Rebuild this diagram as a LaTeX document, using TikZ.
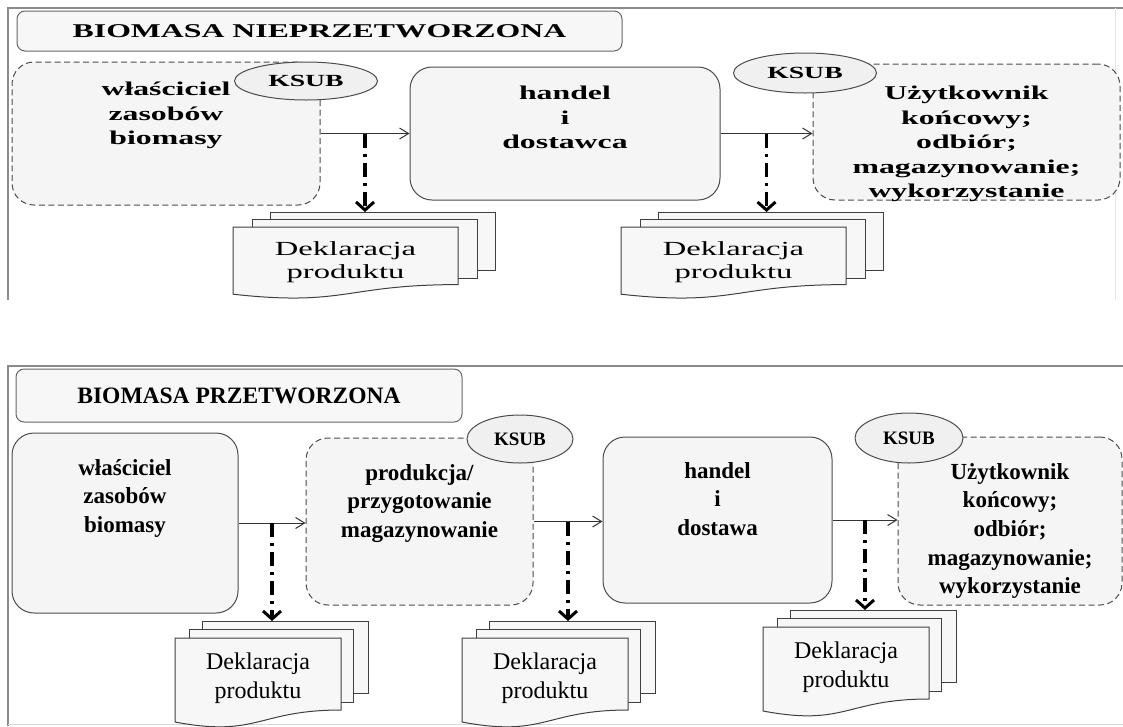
\documentclass[tikz,border=0pt]{standalone}
\usepackage{fontspec}
\setmainfont{Liberation Serif}
\newfontfamily\widefont{Liberation Serif}[FakeStretch=1.63]
\usetikzlibrary{arrows.meta, shapes.geometric, positioning, calc}
\tikzset{%
>={Straight Barb[length=9pt,width=11pt]},
  % Specifications for style of nodes:
            box/.style = {draw=black!70, fill=black!4, line width=1pt,
                            rounded corners=22pt, inner sep=0pt},
            dbox/.style = {box, dash pattern=on 6pt off 3.5pt},
            ksub/.style = {ellipse, draw=black!70, fill=black!6,
                            line width=1pt, inner sep=0pt},
            head/.style = {draw=black!60, fill=black!3, line width=1pt,
                            rounded corners=8pt, inner sep=0pt},
            page/.style = {draw=black!75, fill=black!3, line width=1pt},
            frame/.style = {draw=black!45, line width=1.5pt},
            flow/.style = {->, draw=black!80, line width=1pt},
            decl/.style = {draw=black, line width=3.4pt,
                            dash pattern=on 14pt off 6pt on 3pt off 6pt,
                            -{Straight Barb[length=8pt,width=18pt,line width=3pt]}},
            upper/.style = {font={\widefont\bfseries\fontsize{19.5}{24.5}\selectfont},
                            align=center, inner sep=0pt},
            upperdoc/.style = {font={\widefont\fontsize{20}{23}\selectfont},
                            align=center, inner sep=0pt},
            lower/.style = {font={\bfseries\fontsize{23}{28.7}\selectfont},
                            align=center, inner sep=0pt},
            lowerdoc/.style = {font={\fontsize{24}{29}\selectfont},
                            align=center, inner sep=0pt}
}
\begin{document}
\begin{tikzpicture}[x=1pt, y=-1pt]
\useasboundingbox (0,0) rectangle (1123,726);
% biomasa nieprzetworzona
\draw[frame] (8,300) -- (8,8) -- (1123,8);
\draw[black!10, line width=1pt] (1115,8) -- (1115,300);
\node[head, minimum width=605pt, minimum height=40pt,
      font={\widefont\bfseries\fontsize{19.5}{24}\selectfont}] (h1) at (319.5,31) {BIOMASA NIEPRZETWORZONA};
\node[dbox, minimum width=308pt, minimum height=143pt] (b1) at (166,133.5) {};
\node[box, minimum width=310pt, minimum height=133pt] (b2) at (565,133.5) {};
\node[dbox, minimum width=307pt, minimum height=136pt] (b3) at (966.5,132) {};
\node[ksub, minimum width=143pt, minimum height=38pt,
      font={\widefont\bfseries\fontsize{17}{18}\selectfont}] (k1) at (306,81) {KSUB};
\node[ksub, minimum width=143pt, minimum height=40pt,
      font={\widefont\bfseries\fontsize{17}{18}\selectfont}] (k2) at (805,73) {KSUB};
\node[upper, anchor=north] (t1) at (166,82) {właściciel\\zasobów\\biomasy};
\node[upper, anchor=north] (t2) at (565,86) {handel\\i\\dostawca};
\node[upper, anchor=north] (t3) at (966.5,86) {Użytkownik\\końcowy;\\odbiór;\\magazynowanie;\\wykorzystanie};
\draw[flow] (b1.east) -- (b2.west);
\draw[flow] (b2.east) -- (b2.east -| b3.west);
\coordinate (m1) at ($(b1.east)!0.5!(b2.west)$);
\coordinate (m2) at ($(b2.east)!0.5!(b2.east -| b3.west)$);
\foreach \n/\x/\m in {p1/233/m1, p2/621/m2} {
  \node[page, anchor=north west, minimum width=225pt, minimum height=58pt] (\n c) at (\x+37,212) {};
  \node[page, anchor=north west, minimum width=225pt, minimum height=59pt] (\n b) at (\x+19,219) {};
  \draw[page] (\x,227) -- (\x+225,227) -- (\x+225,284.6)
    .. controls (\x+112.5,284.6) and (\x+112.5,306.7) .. (\x,294.2) -- cycle;
  \node[upperdoc, anchor=north] (\n t) at (\x+112.5,241) {Deklaracja\\produktu};
  \draw[decl] (\m) -- (\m |- \n c.north);
}
% biomasa przetworzona
\draw[frame] (8,726) -- (8,366) -- (1123,366);
\draw[black!15, line width=1pt] (8,724) -- (1123,724);
\node[head, minimum width=446pt, minimum height=53pt,
      font={\bfseries\fontsize{23.5}{28}\selectfont}] (h2) at (239,395.5) {BIOMASA PRZETWORZONA};
\node[box, minimum width=226pt, minimum height=180pt] (bA) at (125,523) {};
\node[dbox, minimum width=227pt, minimum height=167pt] (bB) at (419.5,521.5) {};
\node[box, minimum width=229pt, minimum height=166pt] (bC) at (717.5,520) {};
\node[dbox, minimum width=224pt, minimum height=168pt] (bD) at (1010,521) {};
\node[ksub, minimum width=106pt, minimum height=48pt,
      font={\bfseries\fontsize{19}{21}\selectfont}] (kB) at (520,439) {KSUB};
\node[ksub, minimum width=108pt, minimum height=50pt,
      font={\bfseries\fontsize{19}{21}\selectfont}] (kD) at (909,438) {KSUB};
\node[lower, anchor=north] (tA) at (125,459) {właściciel\\zasobów\\biomasy};
\node[lower, anchor=north] (tB) at (419.5,464) {produkcja/\\przygotowanie\\magazynowanie};
\node[lower, anchor=north] (tC) at (717.5,462) {handel\\i\\dostawa};
\node[lower, anchor=north] (tD) at (1010,463) {Użytkownik\\końcowy;\\odbiór;\\magazynowanie;\\wykorzystanie};
\draw[flow] (bA.east) -- (bA.east -| bB.west);
\draw[flow] (bB.east) -- (bB.east -| bC.west);
\draw[flow] (bC.east) -- (bC.east -| bD.west);
\coordinate (m3) at ($(bA.east)!0.5!(bA.east -| bB.west)$);
\coordinate (m4) at ($(bB.east)!0.5!(bB.east -| bC.west)$);
\coordinate (m5) at ($(bC.east)!0.5!(bC.east -| bD.west)$);
\foreach \n/\x/\y/\m in {p3/175/638/m3, p4/462/638/m4, p5/763/627/m5} {
  \node[page, anchor=north west, minimum width=166pt, minimum height=72pt] (\n c) at (\x+27,\y-17) {};
  \node[page, anchor=north west, minimum width=164pt, minimum height=73pt] (\n b) at (\x+14,\y-9) {};
  \draw[page] (\x,\y) -- (\x+166,\y) -- (\x+166,\y+72)
    .. controls (\x+83,\y+72) and (\x+83,\y+99.7) .. (\x,\y+84) -- cycle;
  \node[lowerdoc, anchor=north] (\n t) at (\x+83,\y+15) {Deklaracja\\produktu};
  \draw[decl] (\m) -- (\m |- \n c.north);
}
\end{tikzpicture}
\end{document}
